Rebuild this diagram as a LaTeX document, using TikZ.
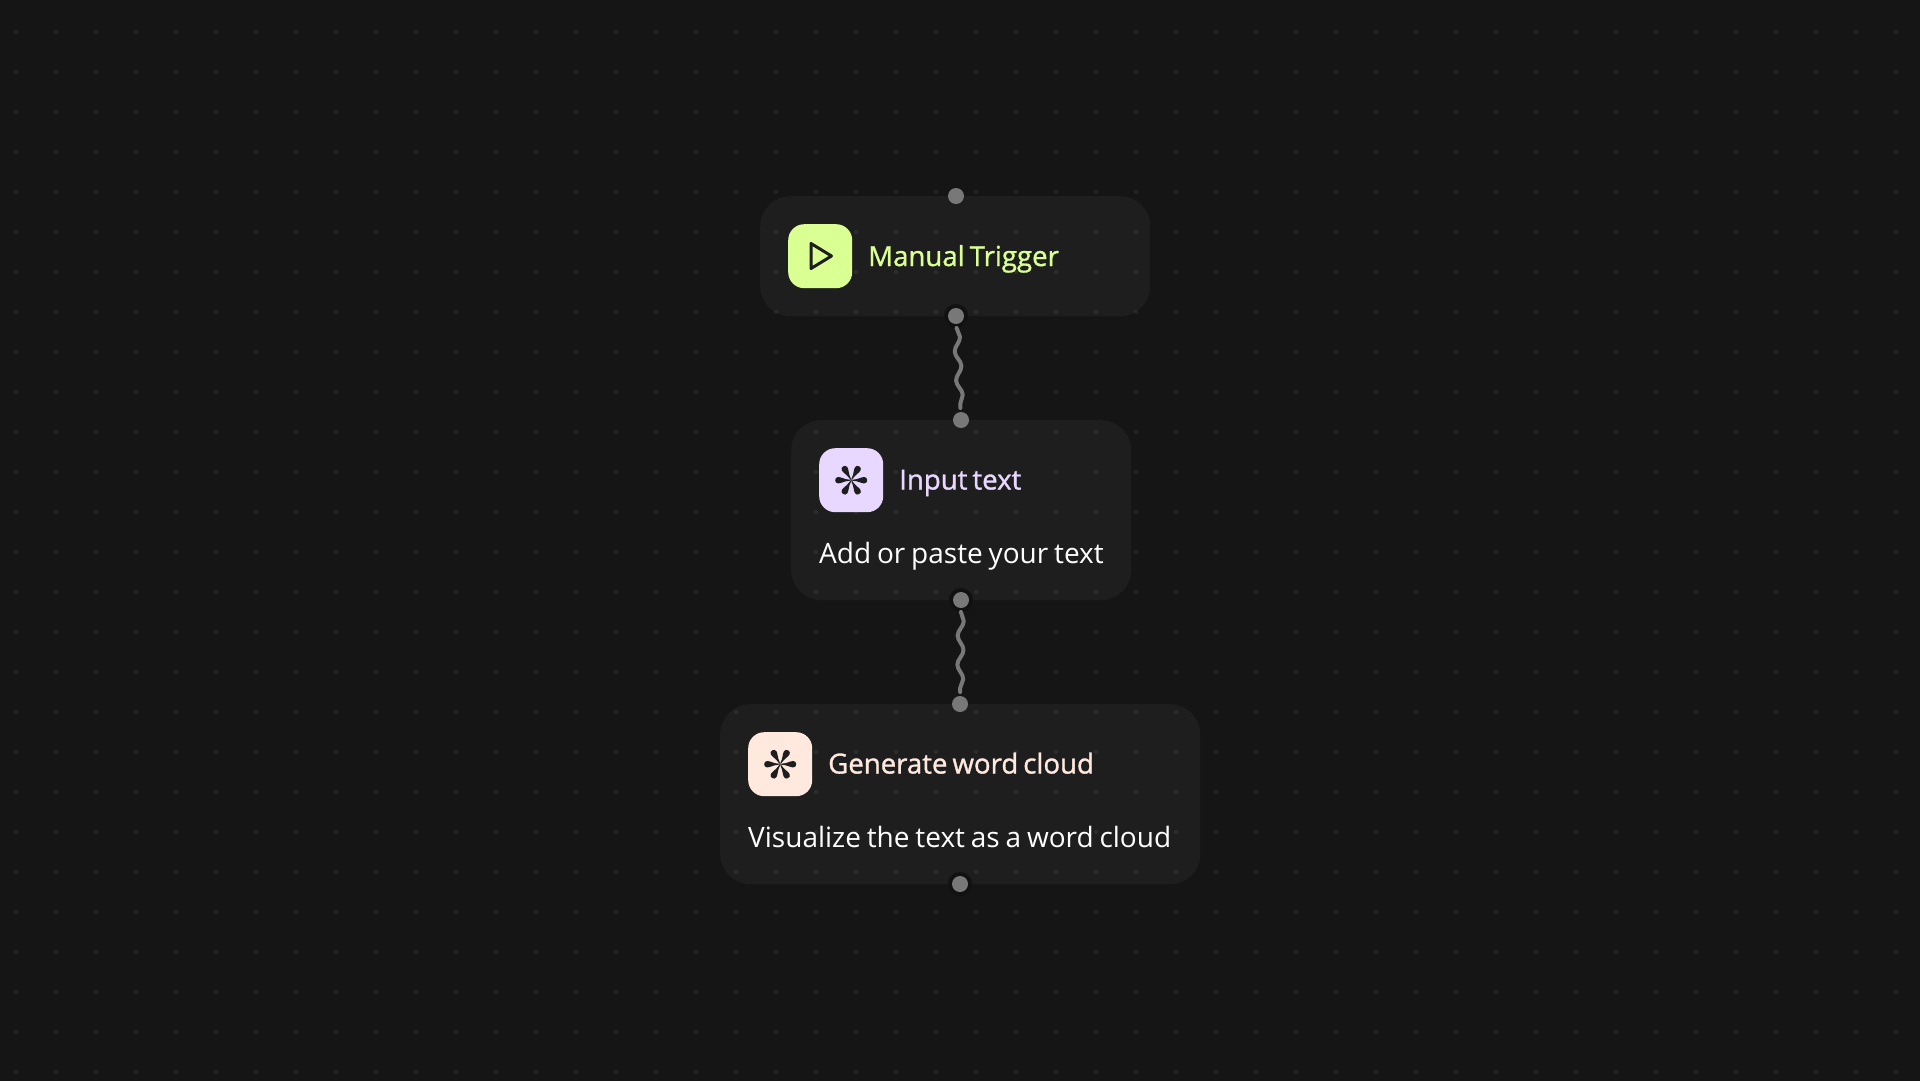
\documentclass[tikz,border=0pt]{standalone}
\usepackage{fontspec}
\setmainfont[WordSpace=0.8]{Open Sans}
\newfontfamily\titlefont[FakeBold=1.2,WordSpace=0.7]{Open Sans}
\usetikzlibrary{decorations.pathmorphing}
\definecolor{bgdark}{HTML}{151515}
\definecolor{carddark}{HTML}{1E1E1E}
\definecolor{icondark}{HTML}{1E1E1E}
\definecolor{halodark}{HTML}{111111}
\definecolor{limeish}{HTML}{DAFF93}
\definecolor{lilacish}{HTML}{E8D7FF}
\definecolor{peachish}{HTML}{FFE8DE}
\definecolor{wiregrey}{HTML}{787878}
\tikzset{
	card/.style={fill=carddark, rounded corners=30pt, anchor=north west, inner sep=0pt},
	iconbox/.style={minimum size=64pt, rounded corners=16pt, anchor=north west, inner sep=0pt},
	port/.style={circle, fill=wiregrey, minimum size=16pt, inner sep=0pt, outer sep=4pt},
	halo/.style={circle, fill=halodark, minimum size=24pt, inner sep=0pt},
	wire/.style={wiregrey, line width=4pt, line cap=round, decorate, decoration={snake, segment length=29pt, amplitude=3pt}},
	titletext/.style={font=\titlefont\fontsize{27.6}{32}\selectfont, anchor=base west, inner sep=0pt},
	bodytext/.style={font=\fontsize{28}{32}\selectfont, text=white, anchor=base west, inner sep=0pt}
}
\newcommand{\sparkicon}[1]{%
	\foreach \a in {0,60,...,300}
		\fill[icondark, shift={(#1)}, rotate=\a] (0,0) -- (1.5,-0.5) .. controls (7,-0.8) and (10,-3.2) .. (13,-3.2) .. controls (15,-3.2) and (16,-1.8) .. (16,0) .. controls (16,1.8) and (15,3.2) .. (13,3.2) .. controls (10,3.2) and (7,0.8) .. (1.5,0.5) -- cycle;
}
\begin{document}
\begin{tikzpicture}[x=1pt, y=-1pt, line join=round]
	\useasboundingbox (0,0) rectangle (1920,1080);
	\fill[bgdark] (-2,-2) rectangle (1922,1082);
	% cards
	\node[card, minimum width=390pt, minimum height=120pt] (trigger) at (760,196) {};
	\node[card, minimum width=340pt, minimum height=180pt] (input) at (791,420) {};
	\node[card, minimum width=480pt, minimum height=180pt] (cloud) at (720,704) {};
	% dot grid
	\foreach \i in {0,...,47}
		\foreach \j in {0,...,26}
			\fill[white, opacity=0.07] ({16+40*\i},{32+40*\j}) circle (2);
	% icons
	\node[iconbox, fill=limeish] (triggericon) at (788,224) {};
	\node[iconbox, fill=lilacish] (inputicon) at (819,448) {};
	\node[iconbox, fill=peachish] (cloudicon) at (748,732) {};
	\draw[icondark, line width=3pt] (811,243.5) -- (811,268.5) -- (831.5,256) -- cycle;
	\sparkicon{inputicon.center}
	\sparkicon{cloudicon.center}
	% labels
	\node[titletext, text=limeish] (triggertitle) at (868,266) {Manual Trigger};
	\node[titletext, text=lilacish] (inputtitle) at (899,489.5) {Input text};
	\node[titletext, text=peachish] (cloudtitle) at (828,773.5) {Generate word cloud};
	\node[bodytext] (inputbody) at (819,563) {Add or paste your text};
	\node[bodytext] (cloudbody) at (748,847) {Visualize the text as a word cloud};
	% ports
	\node[halo] at (956,316) {};
	\node[halo] at (961,600) {};
	\node[halo] at (960,884) {};
	\node[port] (triggertop) at (956,196) {};
	\node[port] (triggerout) at (956,316) {};
	\node[port] (inputin) at (961,420) {};
	\node[port] (inputout) at (961,600) {};
	\node[port] (cloudin) at (960,704) {};
	\node[port] (cloudout) at (960,884) {};
	% wires
	\draw[wire] (triggerout) -- (inputin);
	\draw[wire] (inputout) -- (cloudin);
\end{tikzpicture}
\end{document}
